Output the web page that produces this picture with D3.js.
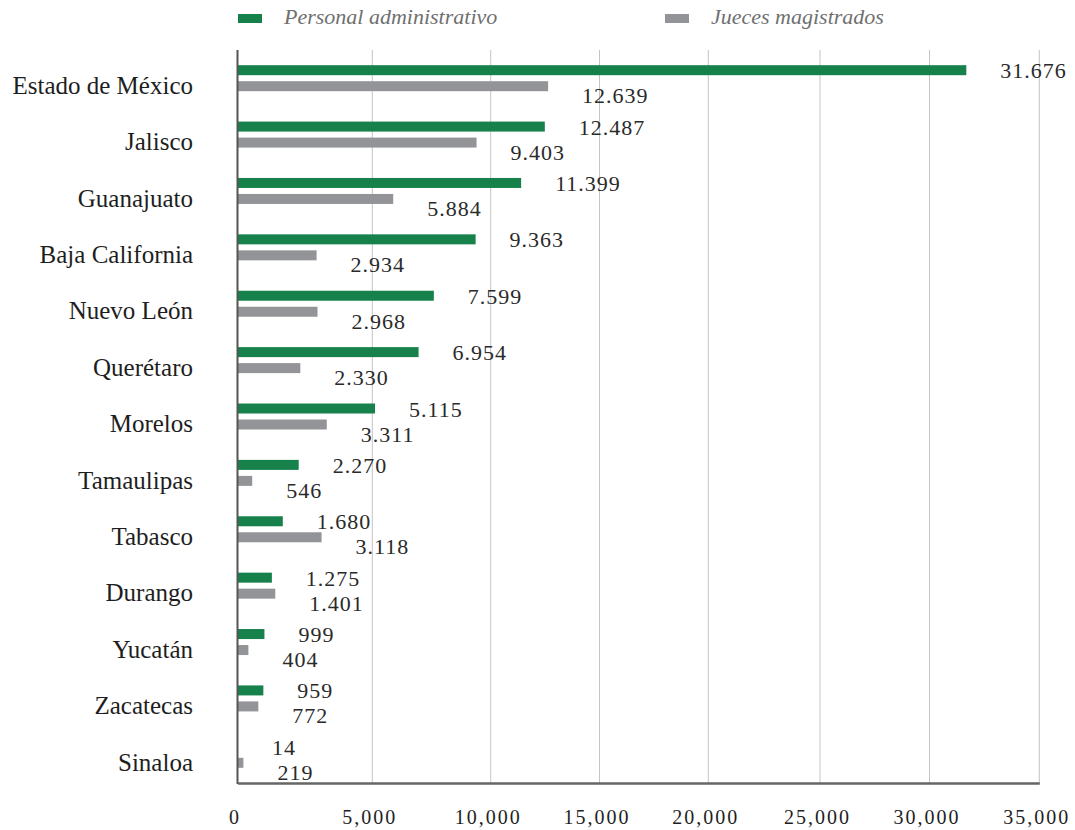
<!DOCTYPE html>
<html>
<head>
<meta charset="utf-8">
<script src="https://cdn.jsdelivr.net/npm/d3@7"></script>
<style>
  html, body { margin: 0; padding: 0; background: #fff; }
  svg { display: block; }
</style>
</head>
<body>
<svg id="chart" width="1075" height="830"></svg>
<script>
const categories = ["Estado de México", "Jalisco", "Guanajuato", "Baja California", "Nuevo León",
  "Querétaro", "Morelos", "Tamaulipas", "Tabasco", "Durango", "Yucatán", "Zacatecas", "Sinaloa"];
const personalAdministrativo = [31676, 12487, 11399, 9363, 7599, 6954, 5115, 2270, 1680, 1275, 999, 959, 14];
const juecesMagistrados = [12639, 9403, 5884, 2934, 2968, 2330, 3311, 546, 3118, 1401, 404, 772, 219];
const seriesNames = ["Personal administrativo", "Jueces magistrados"];
const tickValues = [0, 5000, 10000, 15000, 20000, 25000, 30000, 35000];

const GREEN = "#16814a", GRAY = "#939497";
const SERIF = "'Liberation Serif', 'Times New Roman', serif";
const svg = d3.select("#chart");

// x scale (the reference axis has uneven tick spacing)
const x = d3.scaleLinear()
  .domain(tickValues)
  .range([237.5, 372.3, 490.7, 599.5, 708.3, 820, 929.5, 1039.3]);

const y = d3.scaleBand().domain(categories).range([50, 783]).padding(0);

const fmtVal = d3.formatLocale({decimal: ",", thousands: ".", grouping: [3], currency: ["", ""]}).format(",");
const fmtTick = d3.format(",");

// gridlines
svg.append("g").selectAll("line").data(tickValues.slice(1)).join("line")
  .attr("x1", d => x(d)).attr("x2", d => x(d))
  .attr("y1", 50).attr("y2", 783)
  .attr("stroke", "#c4c4c4").attr("stroke-width", 1);

// bars
const rows = categories.map((c, i) => ({c, p: personalAdministrativo[i], j: juecesMagistrados[i]}));
const barH = 10;
const g = svg.append("g");
g.selectAll("rect.p").data(rows).join("rect").attr("class", "p")
  .attr("x", x(0)).attr("y", d => y(d.c) + y.bandwidth() / 2 - 13)
  .attr("width", d => x(d.p) - x(0)).attr("height", barH).attr("fill", GREEN);
g.selectAll("rect.j").data(rows).join("rect").attr("class", "j")
  .attr("x", x(0)).attr("y", d => y(d.c) + y.bandwidth() / 2 + 3)
  .attr("width", d => x(d.j) - x(0)).attr("height", barH).attr("fill", GRAY);

// value labels
const lblStyle = sel => sel.attr("font-family", SERIF)
  .attr("font-size", 22).attr("letter-spacing", 1).attr("fill", "#2a2a2a")
  .attr("dominant-baseline", "middle");
g.selectAll("text.pl").data(rows).join("text").attr("class", "pl")
  .attr("x", d => x(d.p) + 34).attr("y", d => y(d.c) + y.bandwidth() / 2 - 5)
  .text(d => fmtVal(d.p)).call(lblStyle);
g.selectAll("text.jl").data(rows).join("text").attr("class", "jl")
  .attr("x", d => x(d.j) + 34).attr("y", d => y(d.c) + y.bandwidth() / 2 + 20)
  .text(d => fmtVal(d.j)).call(lblStyle);

// category labels
svg.append("g").selectAll("text").data(categories).join("text")
  .attr("x", 193).attr("y", d => y(d) + y.bandwidth() / 2 + 10)
  .attr("text-anchor", "end").attr("dominant-baseline", "middle")
  .attr("font-family", SERIF)
  .attr("font-size", 25).attr("fill", "#1e1e1e")
  .text(d => d);

// axes lines
svg.append("line").attr("x1", x(0)).attr("x2", x(0)).attr("y1", 50).attr("y2", 784)
  .attr("stroke", "#555").attr("stroke-width", 2);
const xAxis = d3.axisBottom(x).tickValues(tickValues).tickFormat(fmtTick).tickSize(0).tickPadding(0);
const ax = svg.append("g").attr("transform", "translate(0,783)").call(xAxis);
ax.select(".domain").attr("stroke", "#666").attr("stroke-width", 2.5);
ax.selectAll("text")
  .attr("font-family", SERIF)
  .attr("font-size", 20).attr("letter-spacing", 2).attr("fill", "#1e1e1e")
  .attr("dy", 0).attr("y", 41).attr("dx", -3);

// legend
const legend = svg.append("g");
const legendX = [238, 665];
seriesNames.forEach((name, i) => {
  legend.append("rect").attr("x", legendX[i]).attr("y", 14).attr("width", 24).attr("height", 9)
    .attr("fill", i === 0 ? GREEN : GRAY);
  legend.append("text").attr("x", legendX[i] + 46).attr("y", 19)
    .attr("dominant-baseline", "middle")
    .attr("font-family", SERIF)
    .attr("font-style", "italic").attr("font-size", 22).attr("fill", "#6f6f6f")
    .text(name);
});
</script>
</body>
</html>
